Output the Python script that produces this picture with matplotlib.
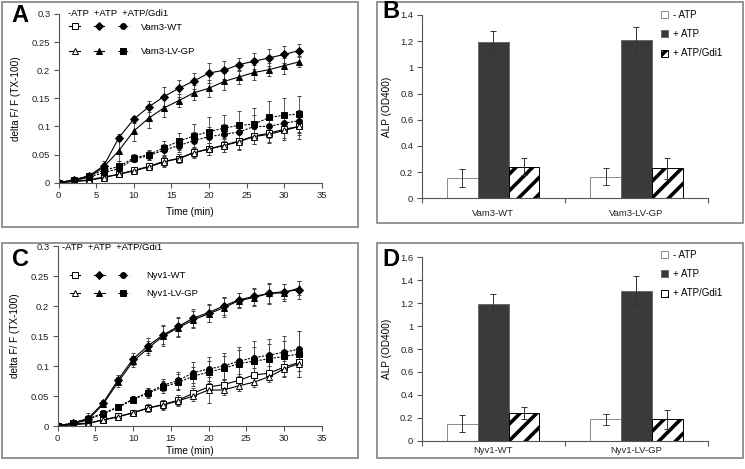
import matplotlib
matplotlib.use("Agg")
import matplotlib.pyplot as plt
from matplotlib.lines import Line2D
from matplotlib.patches import Rectangle
from matplotlib.ticker import FuncFormatter, MultipleLocator
import numpy as np

plt.rcParams['font.family'] = ['Liberation Sans', 'DejaVu Sans']
plt.rcParams['hatch.linewidth'] = 2.6
FS = 6.8

# ---------------- data ----------------
time_min = [0, 2, 4, 6, 8, 10, 12, 14, 16, 18, 20, 22, 24, 26, 28, 30, 32]

# Panel A (Vam3)
a_negatp_wt = [0, 0.003, 0.005, 0.010, 0.015, 0.022, 0.029, 0.038, 0.043, 0.054, 0.060, 0.067, 0.074, 0.083, 0.088, 0.095, 0.100]
a_negatp_wt_err = [0, 0.002, 0.003, 0.004, 0.004, 0.005, 0.006, 0.008, 0.008, 0.009, 0.010, 0.012, 0.014, 0.014, 0.015, 0.015, 0.016]
a_negatp_lv = [0, 0.002, 0.004, 0.009, 0.015, 0.021, 0.028, 0.037, 0.043, 0.053, 0.060, 0.066, 0.073, 0.082, 0.086, 0.093, 0.100]
a_negatp_lv_err = [0, 0.002, 0.003, 0.004, 0.004, 0.005, 0.006, 0.009, 0.008, 0.009, 0.011, 0.012, 0.014, 0.014, 0.016, 0.017, 0.022]
a_atp_wt = [0, 0.005, 0.012, 0.030, 0.080, 0.113, 0.135, 0.153, 0.168, 0.181, 0.195, 0.200, 0.210, 0.216, 0.222, 0.228, 0.235]
a_atp_wt_err = [0, 0.002, 0.005, 0.008, 0.006, 0.006, 0.010, 0.017, 0.015, 0.014, 0.017, 0.016, 0.012, 0.014, 0.015, 0.015, 0.012]
a_atp_lv = [0, 0.004, 0.010, 0.028, 0.057, 0.092, 0.115, 0.133, 0.146, 0.160, 0.168, 0.180, 0.188, 0.196, 0.201, 0.208, 0.215]
a_atp_lv_err = [0, 0.002, 0.005, 0.007, 0.018, 0.018, 0.017, 0.016, 0.012, 0.013, 0.015, 0.015, 0.013, 0.013, 0.012, 0.014, 0.010]
a_gdi_wt = [0, 0.004, 0.010, 0.018, 0.025, 0.042, 0.048, 0.058, 0.066, 0.075, 0.082, 0.086, 0.090, 0.100, 0.100, 0.106, 0.110]
a_gdi_wt_err = [0, 0.002, 0.004, 0.006, 0.008, 0.006, 0.008, 0.010, 0.012, 0.015, 0.017, 0.018, 0.016, 0.020, 0.020, 0.018, 0.020]
a_gdi_lv = [0, 0.005, 0.012, 0.022, 0.029, 0.044, 0.050, 0.062, 0.074, 0.083, 0.091, 0.097, 0.102, 0.104, 0.116, 0.120, 0.122]
a_gdi_lv_err = [0, 0.002, 0.005, 0.008, 0.009, 0.007, 0.009, 0.012, 0.015, 0.022, 0.025, 0.023, 0.026, 0.028, 0.030, 0.030, 0.033]

# Panel C (Nyv1)
c_negatp_wt = [0, 0.003, 0.005, 0.010, 0.016, 0.022, 0.030, 0.036, 0.043, 0.055, 0.065, 0.069, 0.076, 0.085, 0.088, 0.098, 0.106]
c_negatp_wt_err = [0, 0.002, 0.003, 0.004, 0.005, 0.005, 0.006, 0.007, 0.008, 0.009, 0.010, 0.010, 0.011, 0.012, 0.012, 0.014, 0.015]
c_negatp_lv = [0, 0.002, 0.004, 0.010, 0.015, 0.022, 0.030, 0.035, 0.042, 0.050, 0.060, 0.060, 0.067, 0.073, 0.082, 0.095, 0.104]
c_negatp_lv_err = [0, 0.002, 0.003, 0.004, 0.005, 0.005, 0.006, 0.008, 0.009, 0.008, 0.021, 0.008, 0.008, 0.008, 0.008, 0.013, 0.022]
c_atp_wt = [0, 0.005, 0.012, 0.038, 0.077, 0.112, 0.134, 0.152, 0.166, 0.180, 0.189, 0.200, 0.210, 0.216, 0.221, 0.224, 0.227]
c_atp_wt_err = [0, 0.003, 0.010, 0.005, 0.008, 0.010, 0.013, 0.016, 0.016, 0.015, 0.015, 0.015, 0.012, 0.014, 0.018, 0.012, 0.015]
c_atp_lv = [0, 0.004, 0.010, 0.036, 0.073, 0.108, 0.130, 0.150, 0.164, 0.177, 0.187, 0.197, 0.209, 0.214, 0.221, 0.222, 0.230]
c_atp_lv_err = [0, 0.003, 0.008, 0.005, 0.008, 0.009, 0.012, 0.016, 0.016, 0.014, 0.014, 0.016, 0.013, 0.014, 0.016, 0.014, 0.012]
c_gdi_wt = [0, 0.005, 0.012, 0.021, 0.032, 0.045, 0.056, 0.068, 0.076, 0.089, 0.095, 0.100, 0.108, 0.114, 0.118, 0.123, 0.128]
c_gdi_wt_err = [0, 0.002, 0.005, 0.006, 0.005, 0.005, 0.008, 0.010, 0.014, 0.018, 0.020, 0.022, 0.024, 0.027, 0.027, 0.027, 0.030]
c_gdi_lv = [0, 0.005, 0.011, 0.020, 0.031, 0.044, 0.055, 0.065, 0.073, 0.083, 0.090, 0.096, 0.104, 0.108, 0.112, 0.116, 0.120]
c_gdi_lv_err = [0, 0.002, 0.005, 0.006, 0.005, 0.005, 0.008, 0.010, 0.013, 0.016, 0.018, 0.020, 0.022, 0.024, 0.025, 0.026, 0.038]

# Bar panels
bar_conditions = ['- ATP', '+ ATP', '+ ATP/Gdi1']
b_categories = ['Vam3-WT', 'Vam3-LV-GP']
b_negatp = [0.155, 0.165]
b_negatp_err = [0.070, 0.063]
b_atp = [1.19, 1.21]
b_atp_err = [0.090, 0.095]
b_gdi = [0.240, 0.228]
b_gdi_err = [0.065, 0.077]

d_categories = ['Nyv1-WT', 'Nyv1-LV-GP']
d_negatp = [0.150, 0.185]
d_negatp_err = [0.070, 0.052]
d_atp = [1.19, 1.31]
d_atp_err = [0.090, 0.130]
d_gdi = [0.240, 0.185]
d_gdi_err = [0.055, 0.080]

# --------------- figure ---------------
W, H = 745, 469
fig = plt.figure(figsize=(W / 100, H / 100), dpi=100)
fig.patch.set_facecolor('white')


def ax_px(x0, x1, ytop, ybot):
    return fig.add_axes([x0 / W, 1 - ybot / H, (x1 - x0) / W, (ybot - ytop) / H])


def box_px(x0, y0, x1, y1):
    fig.patches.append(Rectangle((x0 / W, 1 - y1 / H), (x1 - x0) / W, (y1 - y0) / H,
                                 transform=fig.transFigure, fill=False,
                                 edgecolor='#8c8c8c', linewidth=1.3))


box_px(2, 2, 358, 227)
box_px(377, 2, 743, 223)
box_px(2, 243, 358, 458)
box_px(377, 243, 743, 458)

fmt = FuncFormatter(lambda v, p: ('%g' % round(v, 3)))
SPINE = '#555555'


def style_axes(ax):
    for s in ['top', 'right']:
        ax.spines[s].set_visible(False)
    for s in ['left', 'bottom']:
        ax.spines[s].set_color(SPINE)
        ax.spines[s].set_linewidth(0.8)
    ax.tick_params(direction='out', length=3.5, width=0.8, color=SPINE,
                   labelsize=FS, labelcolor='#222222', pad=2.5)


def line_panel(ax, series, cat_labels, header_xy, leg_anchor, leg_spacing, textpad, xlpad):
    style_axes(ax)
    for y, e, mk, mfc, ls in series:
        ax.errorbar(time_min, y, yerr=e, color='black', linestyle=ls, linewidth=0.8,
                    marker=mk, markersize=4.2 if mk != 'D' else 3.6,
                    markerfacecolor=mfc, markeredgecolor='black', markeredgewidth=0.7,
                    ecolor='#444444', elinewidth=0.6, capsize=1.3, capthick=0.6)
    ax.set_xlim(0, 35)
    ax.set_ylim(0, 0.3)
    ax.xaxis.set_major_locator(MultipleLocator(5))
    ax.yaxis.set_major_locator(MultipleLocator(0.05))
    ax.yaxis.set_major_formatter(fmt)
    ax.set_xlabel('Time (min)', fontsize=FS + 0.4, labelpad=xlpad)
    ax.set_ylabel('delta F/ F (TX-100)', fontsize=FS + 0.4, labelpad=8)
    ax.text(header_xy[0], header_xy[1], '-ATP  +ATP  +ATP/Gdi1', transform=ax.transAxes,
            fontsize=FS, va='center', ha='left')
    handles = []
    for y, e, mk, mfc, ls in series:
        handles.append(Line2D([], [], color='black', linestyle=ls, linewidth=0.8, marker=mk,
                              markersize=4.2 if mk != 'D' else 3.6, markerfacecolor=mfc,
                              markeredgecolor='black', markeredgewidth=0.7))
    labels = ['', '', '', '', cat_labels[0], cat_labels[1]]
    ax.legend(handles, labels, ncol=3, loc='upper left', bbox_to_anchor=leg_anchor,
              frameon=False, fontsize=FS, handlelength=1.15, handletextpad=textpad,
              columnspacing=2.55 - 1.15 - textpad, labelspacing=leg_spacing, borderpad=0,
              borderaxespad=0)


# Panel A
axA = ax_px(58.7, 321.7, 14, 182.7)
series_A = [
    (a_negatp_wt, a_negatp_wt_err, 's', 'white', '-'),
    (a_negatp_lv, a_negatp_lv_err, '^', 'white', '-'),
    (a_atp_wt, a_atp_wt_err, 'D', 'black', '-'),
    (a_atp_lv, a_atp_lv_err, '^', 'black', '-'),
    (a_gdi_wt, a_gdi_wt_err, 'o', 'black', (0, (2, 1.2))),
    (a_gdi_lv, a_gdi_lv_err, 's', 'black', (0, (2, 1.2))),
]
line_panel(axA, series_A, ['Vam3-WT', 'Vam3-LV-GP'], (0.035, 1.0),
           (0.041, 0.948), 1.65, 1.3, 5)

# Panel C
axC = ax_px(57.7, 321.7, 246, 426)
series_C = [
    (c_negatp_wt, c_negatp_wt_err, 's', 'white', '-'),
    (c_negatp_lv, c_negatp_lv_err, '^', 'white', '-'),
    (c_atp_wt, c_atp_wt_err, 'D', 'black', '-'),
    (c_atp_lv, c_atp_lv_err, '^', 'black', '-'),
    (c_gdi_wt, c_gdi_wt_err, 'o', 'black', (0, (2, 1.2))),
    (c_gdi_lv, c_gdi_lv_err, 's', 'black', (0, (2, 1.2))),
]
line_panel(axC, series_C, ['Nyv1-WT', 'Nyv1-LV-GP'], (0.016, 0.99),
           (0.045, 0.862), 0.95, 1.9, 2)


def bar_panel(ax, cats, vals, errs, ymax, leg_anchor, xpad):
    style_axes(ax)
    x = np.arange(len(cats))
    w = 0.215
    styles = [dict(color='white', edgecolor='#8a8a8a'),
              dict(color='#3a3a3a', edgecolor='#6a6a6a'),
              dict(color='white', edgecolor='black', hatch='//')]
    for i, (v, e, st) in enumerate(zip(vals, errs, styles)):
        ax.bar(x + (i - 1) * w, v, w, yerr=e, linewidth=0.7, label=bar_conditions[i],
               error_kw=dict(ecolor='#333333', elinewidth=0.7, capsize=2, capthick=0.7),
               **st)
    ax.set_xlim(-0.5, 1.5)
    ax.set_ylim(0, ymax)
    ax.yaxis.set_major_locator(MultipleLocator(0.2))
    ax.yaxis.set_major_formatter(fmt)
    ax.set_xticks(x)
    ax.set_xticklabels(cats)
    ax.set_xticks([-0.5, 0.5, 1.5], minor=True)
    ax.tick_params(axis='x', which='major', length=0, pad=xpad)
    ax.tick_params(axis='x', which='minor', length=3.5, width=0.8, color=SPINE, direction='out')
    ax.set_ylabel('ALP (OD400)', fontsize=FS + 0.4, labelpad=6)
    ax.legend(loc='upper left', bbox_to_anchor=leg_anchor, bbox_transform=fig.transFigure,
              frameon=False, fontsize=FS + 0.2, handlelength=0.75, handleheight=0.75,
              handletextpad=0.45, labelspacing=0.95, borderpad=0, borderaxespad=0)


axB = ax_px(421.7, 708, 15, 198.3)
bar_panel(axB, b_categories, [b_negatp, b_atp, b_gdi], [b_negatp_err, b_atp_err, b_gdi_err],
          1.4, (661 / W, 1 - 10 / H), 8)
axD = ax_px(421.7, 708, 257.3, 440.7)
bar_panel(axD, d_categories, [d_negatp, d_atp, d_gdi], [d_negatp_err, d_atp_err, d_gdi_err],
          1.6, (661 / W, 1 - 250 / H), 4)

# Panel letters
for lab, xp, yp in [('A', 11, 15), ('B', 382, 12), ('C', 12, 260), ('D', 382, 259)]:
    fig.text(xp / W, 1 - yp / H, lab, fontsize=17, fontweight='bold', va='center', ha='left')

fig.savefig('out.png', dpi=100)
